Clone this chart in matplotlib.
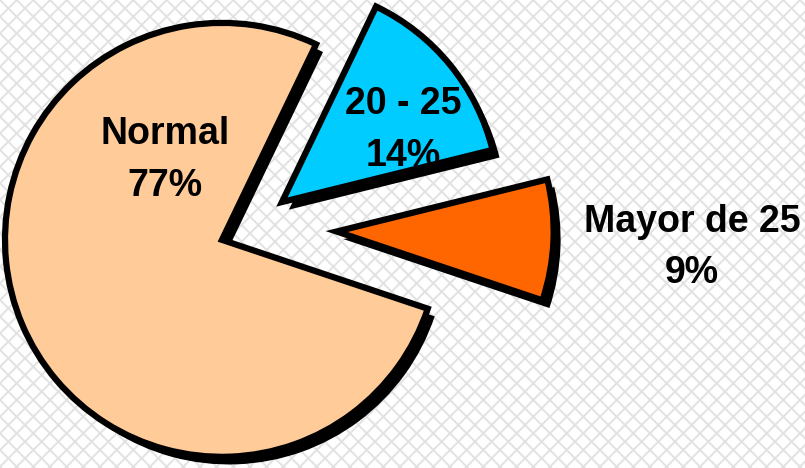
import matplotlib
matplotlib.use('Agg')
import matplotlib.pyplot as plt
import matplotlib.patheffects as pe
from matplotlib.patches import Rectangle

# datos
categorias = ['Mayor de 25', '20 - 25', 'Normal']
porcentajes = [9, 14, 77]
colores = ['#FF6600', '#00CCFF', '#FFCC99']
separacion = [0.40, 0.19, 0.14]

# posiciones de las etiquetas (coordenadas del eje)
pos_etiquetas = [(2.037, -0.09), (0.705, 0.452), (-0.392, 0.313)]

plt.rcParams['font.family'] = ['Liberation Sans', 'DejaVu Sans']
plt.rcParams['hatch.linewidth'] = 1.4

fig = plt.figure(figsize=(8.05, 4.68), dpi=100)
fondo = Rectangle((0, 0), 1, 1, transform=fig.transFigure, facecolor='white',
                  edgecolor='#e2e2e2', hatch='xx', linewidth=0, zorder=-10)
fig.patches.append(fondo)

ax = fig.add_axes([0, 0, 1, 1])
ax.patch.set_visible(False)

inicio = -18.5
wedges, _ = ax.pie(porcentajes, colors=colores, explode=separacion,
                   startangle=inicio, counterclock=True, radius=1,
                   wedgeprops=dict(edgecolor='black', linewidth=4.5, joinstyle='miter'))
for w in wedges:
    w.set_path_effects([pe.SimplePatchShadow(offset=(5, -5.5), shadow_rgbFace='black', alpha=1),
                        pe.Normal()])

for cat, p, (x, y) in zip(categorias, porcentajes, pos_etiquetas):
    ax.text(x, y, f'{cat}\n{p}%', ha='center', va='center', multialignment='center',
            fontsize=27, fontweight='bold', color='black', linespacing=1.55)

ax.set_aspect('auto')
ax.set_xlim(-1.152, 2.558)
ax.set_ylim(-1.106, 1.051)
ax.axis('off')

fig.savefig('out.png', dpi=100)
